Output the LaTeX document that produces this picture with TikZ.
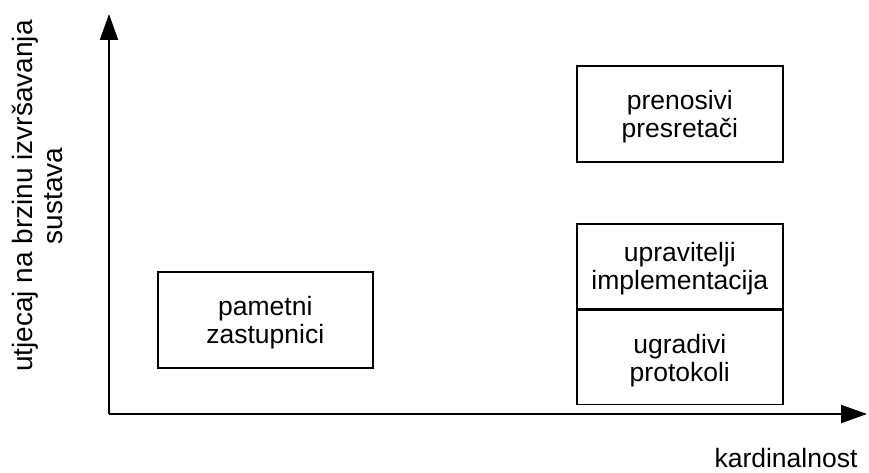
\documentclass[tikz,border=0pt]{standalone}
\usepackage{fontspec}
\setmainfont{Liberation Sans}
\usetikzlibrary{arrows.meta}
\begin{document}
\begin{tikzpicture}[x=1pt,y=-1pt,
  every node/.style={font=\fontsize{26.5}{28}\selectfont, align=center, inner sep=0pt},
  axis/.style={line width=2pt, -{Triangle[length=26pt,width=18pt]}},
  cat/.style={draw, line width=1.6pt, minimum width=206pt, anchor=north west,
    text depth=-6pt}]
  \useasboundingbox (0,0) rectangle (869,473);
  % axes
  \coordinate (O) at (109,414);
  \coordinate (ytip) at (109,14);
  \coordinate (xtip) at (867,414);
  \draw[axis] (O) -- (ytip);
  \draw[axis] (O) -- (xtip);
  % category boxes
  \node[cat, minimum width=215pt, minimum height=96pt] (pz) at (157,271) {pametni\\zastupnici};
  \node[cat, minimum height=96pt] (pp) at (576,65) {prenosivi\\presretači};
  \node[cat, minimum height=85pt] (ui) at (576,223) {upravitelji\\implementacija};
  \node[cat, minimum height=94pt, anchor=north west] (up) at (ui.south west) {ugradivi\\protokoli};
  % axis labels
  \node[rotate=90, font=\fontsize{28}{30}\selectfont] (ylab) at (37,196) {utjecaj na brzinu izvršavanja\\sustava};
  \node[anchor=base] (xlab) at (786,467) {kardinalnost};
\end{tikzpicture}
\end{document}
